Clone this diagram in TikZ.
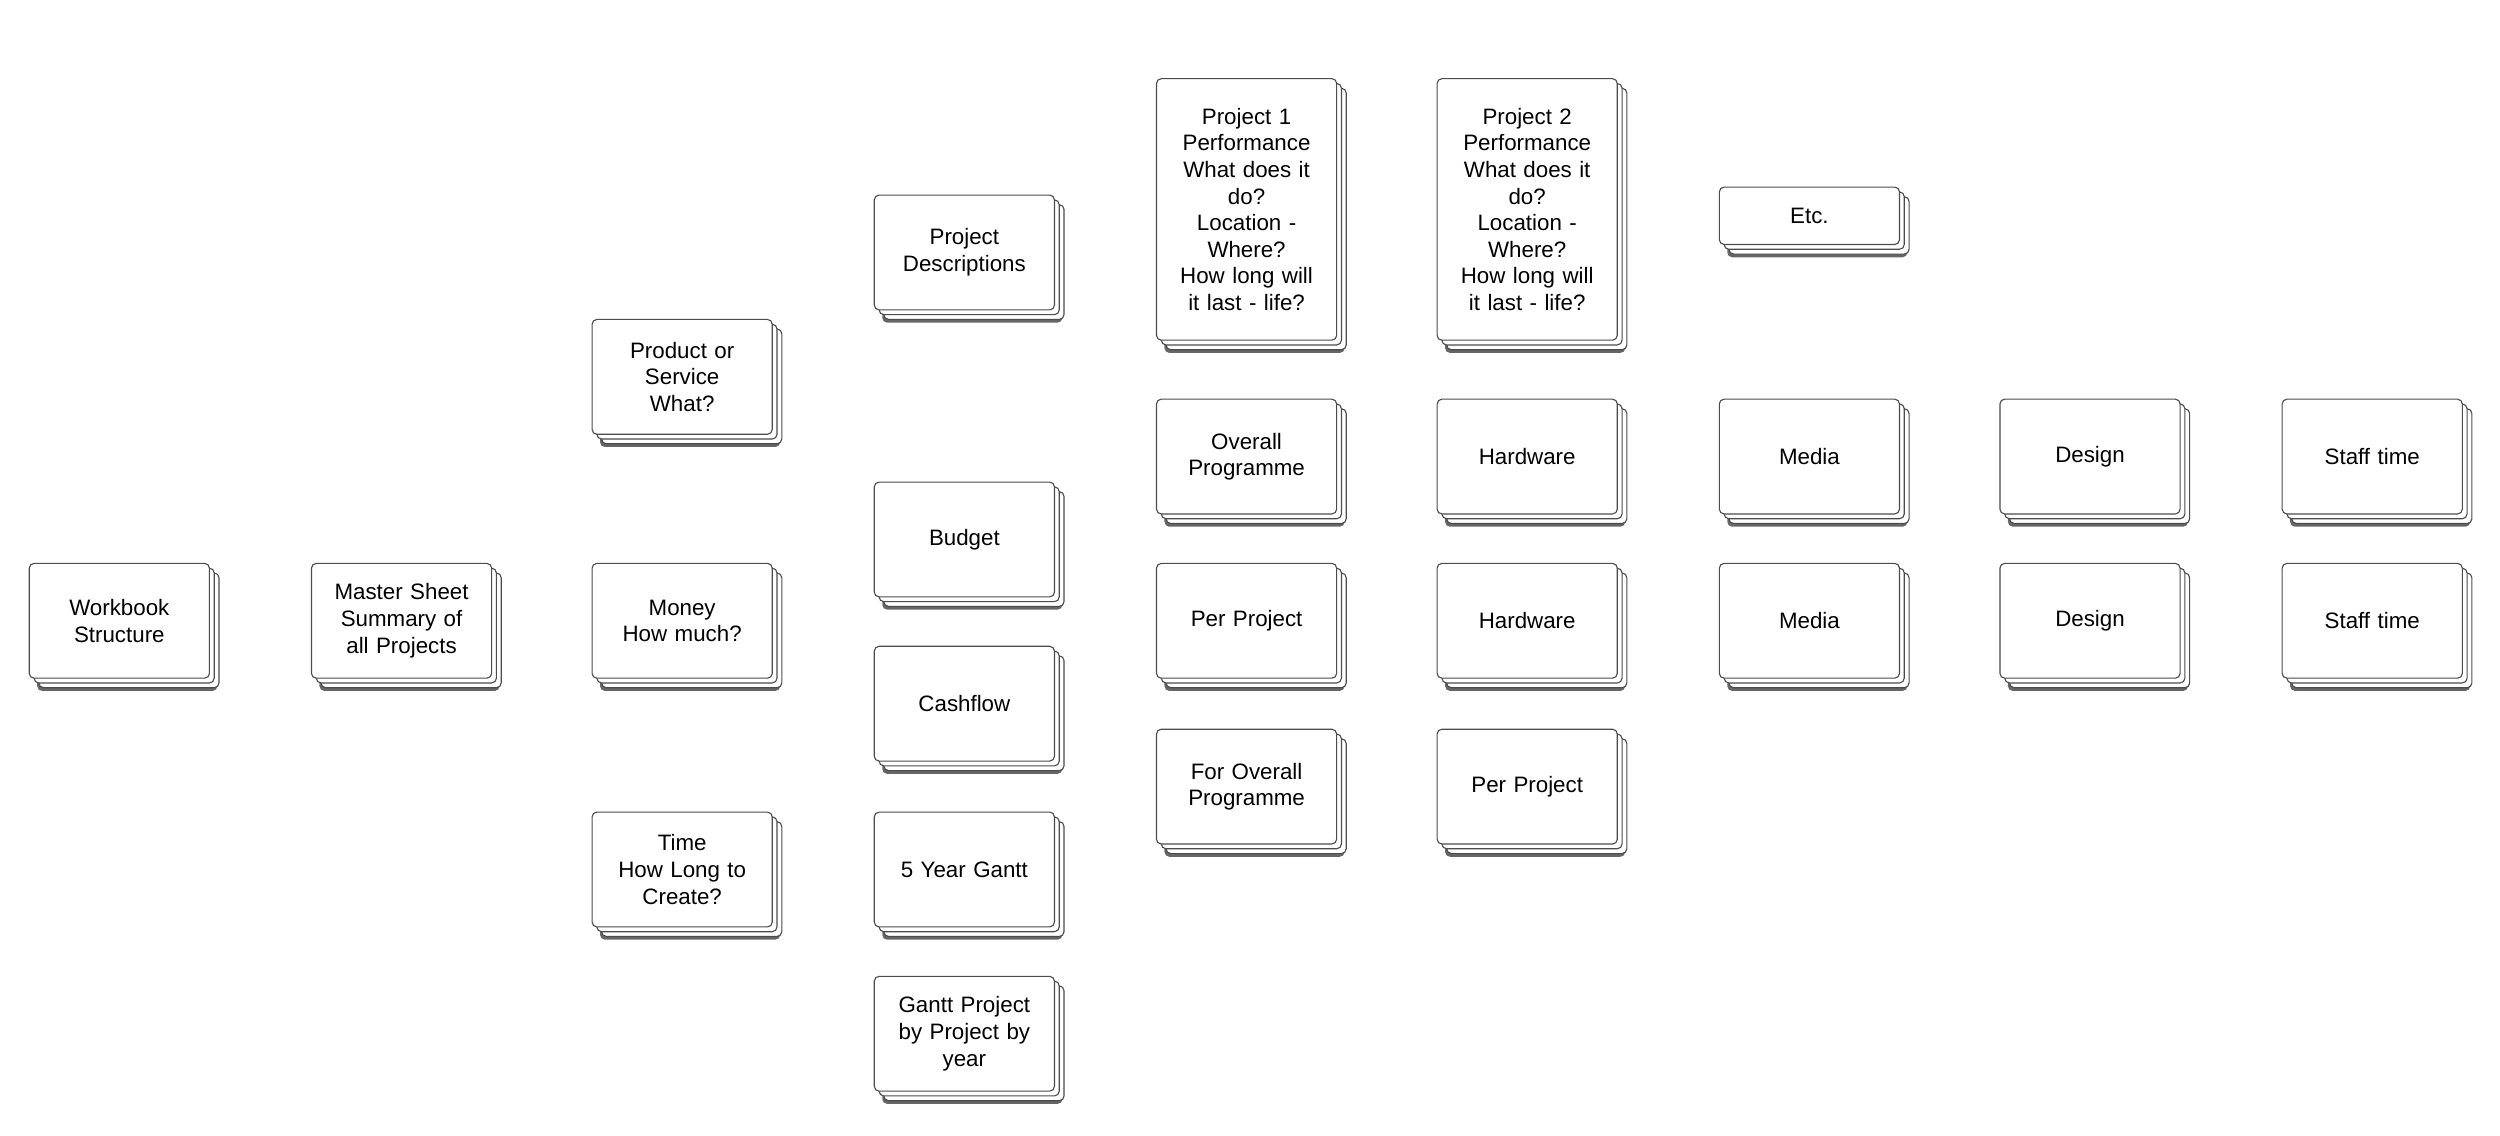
\documentclass[tikz,border=0pt]{standalone}
\usepackage{fontspec}
\setmainfont{Liberation Sans}
\usetikzlibrary{shadows}

\tikzset{
  card/.style={draw=black!70, line width=0.7pt, rounded corners=3pt, fill=white,
    anchor=north west, align=center, inner sep=2pt,
    minimum width=113pt, minimum height=72pt, text width=100pt,
    font=\fontsize{14}{16.7}\selectfont,
    drop shadow={shadow xshift=5pt, shadow yshift=-8pt, opacity=0.75, fill=black!80},
    double copy shadow={shadow xshift=3pt, shadow yshift=-3pt, draw=black!70, fill=white}},
  tall/.style={minimum height=164pt},
  flat/.style={minimum height=36pt}
}

\begin{document}
\begin{tikzpicture}[x=1pt,y=-1pt]
		\useasboundingbox (0,0) rectangle (1568,712);

		% First columns
		\node[card] (workbook) at (18,353) {Workbook\\Structure};
		\node[card] (master) at (195,353) {Master Sheet\\Summary of\\all Projects};
		\node[card] (product) at (371,200) {Product or\\Service\\What?};
		\node[card] (money) at (371,353) {Money\\How much?};
		\node[card] (time) at (371,509) {Time\\How Long to\\Create?};

		% Sheets
		\node[card] (descriptions) at (548,122) {Project\\Descriptions};
		\node[card] (budget) at (548,302) {Budget};
		\node[card] (cashflow) at (548,405) {Cashflow};
		\node[card] (gantt5) at (548,509) {5 Year Gantt};
		\node[card] (ganttpp) at (548,612) {Gantt Project\\by Project by\\year};

		% Project descriptions
		\node[card, tall] (project1) at (725,49) {Project 1\\Performance\\What does it\\do?\\Location -\\Where?\\How long will\\it last - life?};
		\node[card, tall] (project2) at (901,49) {Project 2\\Performance\\What does it\\do?\\Location -\\Where?\\How long will\\it last - life?};
		\node[card, flat] (etc) at (1078,117) {Etc.};

		% Budget rows
		\node[card] (overall) at (725,250) {Overall\\Programme};
		\node[card] (hardwareA) at (901,250) {Hardware};
		\node[card] (mediaA) at (1078,250) {Media};
		\node[card] (designA) at (1254,250) {Design};
		\node[card] (staffA) at (1431,250) {Staff time};

		\node[card] (perproject) at (725,353) {Per Project};
		\node[card] (hardwareB) at (901,353) {Hardware};
		\node[card] (mediaB) at (1078,353) {Media};
		\node[card] (designB) at (1254,353) {Design};
		\node[card] (staffB) at (1431,353) {Staff time};

		% Cashflow row
		\node[card] (foroverall) at (725,457) {For Overall\\Programme};
		\node[card] (cfperproject) at (901,457) {Per Project};
	\end{tikzpicture}
\end{document}
